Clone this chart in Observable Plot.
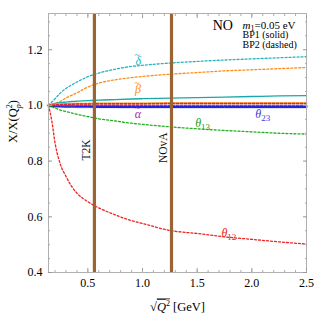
<!DOCTYPE html>
<html><head><meta charset="utf-8">
<script src="https://cdn.jsdelivr.net/npm/d3@7"></script>
<script src="https://cdn.jsdelivr.net/npm/@observablehq/plot@0.6"></script>
<style>
body{margin:0;background:#fff;}
svg text{font-family:"Liberation Serif","DejaVu Serif",serif;}
</style></head>
<body><div id="chart"></div>
<script>
const xs = [0.14,0.17,0.2,0.25,0.3,0.35,0.4,0.5,0.6,0.75,0.9,1.0,1.25,1.5,1.75,2.0,2.25,2.5];
const deltaBP2 = [1.0,1.012,1.024,1.045,1.061,1.073,1.084,1.103,1.116,1.13,1.14,1.144,1.152,1.158,1.163,1.167,1.171,1.175];
const betaBP2  = [1.0,1.003,1.007,1.015,1.027,1.036,1.045,1.066,1.08,1.092,1.1,1.104,1.112,1.118,1.124,1.128,1.132,1.136];
const tealBP1  = [1.0,1.004,1.007,1.01,1.012,1.014,1.015,1.017,1.019,1.021,1.023,1.024,1.026,1.028,1.03,1.032,1.034,1.035];
const th13BP2  = [1.0,0.995,0.99,0.983,0.978,0.973,0.968,0.96,0.952,0.944,0.936,0.932,0.923,0.916,0.91,0.905,0.9,0.897];
const th12BP2  = [1.0,0.945,0.865,0.787,0.745,0.71,0.685,0.654,0.632,0.607,0.586,0.576,0.551,0.54,0.528,0.519,0.51,0.502];
const orangeBP1= [1.0,1.002,1.003,1.004,1.005,1.005,1.006,1.006,1.007,1.007,1.007,1.007,1.008,1.008,1.008,1.008,1.008,1.008];
const redBP1   = [1.0,1.001,1.002,1.003,1.004,1.004,1.005,1.005,1.006,1.006,1.006,1.006,1.007,1.007,1.007,1.007,1.007,1.007];
const alphaBP2 = [1.0,1.0,1.0,1.0,1.0,1.0,1.0,1.0,1.0,1.0,1.0,1.0,1.0,1.0,1.0,1.0,1.0,1.0];
const th23BP1  = [1.0,0.999,0.999,0.998,0.998,0.998,0.997,0.997,0.997,0.997,0.996,0.996,0.996,0.996,0.996,0.996,0.996,0.996];
const navyBP1  = [0.998,0.996,0.995,0.995,0.994,0.994,0.994,0.994,0.993,0.993,0.993,0.993,0.993,0.993,0.993,0.993,0.993,0.993];

const expNames = ["T2K","NOvA"];
const expX = [0.56,1.265];
const expLabelY = [0.84,0.848];

const labelText = ["δ̃","β̃","α̃","θ23","θ13","θ12"];
const labelX = [0.957,0.957,0.957,2.1,1.55,1.79];
const labelY = [1.158,1.06,0.968,0.968,0.938,0.543];
const labelColor = ["#20b5c0","#ff8c1a","#9a32a8","#3b3bd8","#22a022","#ee2222"];

const legendLines = ["BP1 (solid)","BP2 (dashed)"];
const legendY = [1.255,1.218];

const xTicks = [0.5,1.0,1.5,2.0,2.5];
const yTicks = [0.4,0.6,0.8,1.0,1.2];

const series = (ys) => xs.map((x,i)=>({x, y: ys[i]}));
const dashed = {strokeWidth:1.3, strokeDasharray:"2,2", curve:"monotone-x"};
const solid = {curve:"monotone-x"};

const xMinor = d3.range(0.2,2.501,0.1).map(v=>+v.toFixed(2));
const yMinor = d3.range(0.45,1.33,0.05).map(v=>+v.toFixed(2));

const plot = Plot.plot({
  width:324, height:324,
  marginLeft:48, marginRight:18, marginTop:13, marginBottom:52,
  x:{domain:[0.14,2.5], label:null},
  y:{domain:[0.4,1.33], label:null},
  style:{fontFamily:"Liberation Serif, serif", fontSize:"12px", color:"#000", background:"#fff"},
  marks:[
    Plot.line(series(deltaBP2), {x:"x", y:"y", stroke:"#20b5c0", ...dashed}),
    Plot.line(series(betaBP2), {x:"x", y:"y", stroke:"#ff8c1a", ...dashed}),
    Plot.line(series(tealBP1), {x:"x", y:"y", stroke:"#18a8a8", strokeWidth:1.3, ...solid}),
    Plot.line(series(th23BP1), {x:"x", y:"y", stroke:"#6a7cff", strokeWidth:4, strokeOpacity:0.45, ...solid}),
    Plot.line(series(navyBP1), {x:"x", y:"y", stroke:"#10108a", strokeWidth:1, ...solid}),
    Plot.line(series(th23BP1), {x:"x", y:"y", stroke:"#2222dd", strokeWidth:1.5, ...solid}),
    Plot.line(series(orangeBP1), {x:"x", y:"y", stroke:"#ff8c1a", strokeWidth:2, ...solid}),
    Plot.line(series(redBP1), {x:"x", y:"y", stroke:"#ee2222", ...dashed}),
    Plot.line(series(alphaBP2), {x:"x", y:"y", stroke:"#9a32a8", ...dashed}),
    Plot.line(series(th13BP2), {x:"x", y:"y", stroke:"#22b022", ...dashed}),
    Plot.line(series(th12BP2), {x:"x", y:"y", stroke:"#ee2222", ...dashed}),
    Plot.ruleX(expX, {stroke:"#9a6434", strokeWidth:3.2}),
    Plot.text(expNames, {x:(d,i)=>expX[i], y:(d,i)=>expLabelY[i], text:d=>d, rotate:-90, dx:-8, fontSize:11.5, fill:"#111"}),
    Plot.text(labelText, {x:(d,i)=>labelX[i], y:(d,i)=>labelY[i], text:d=>d, fill:(d,i)=>labelColor[i], fontSize:12, fontStyle:"italic"}),
    Plot.text(["NO"], {x:1.735, y:1.287, text:d=>d, fontSize:14}),
    Plot.text(["m1=0.05 eV"], {x:1.915, y:1.287, text:d=>d, fontSize:11, textAnchor:"start"}),
    Plot.text(legendLines, {x:1.915, y:(d,i)=>legendY[i], text:d=>d, fontSize:10, textAnchor:"start"}),
    Plot.frame({stroke:"#b0b0b0"}),
    Plot.axisX(xTicks, {anchor:"bottom", tickSize:-4, text:null, stroke:"#999", label:null}),
    Plot.axisX(xTicks, {anchor:"top", tickSize:-4, text:null, stroke:"#999", label:null}),
    Plot.axisX(xMinor, {anchor:"bottom", tickSize:-2, text:null, stroke:"#aaa", label:null}),
    Plot.axisX(xMinor, {anchor:"top", tickSize:-2, text:null, stroke:"#aaa", label:null}),
    Plot.axisX(xTicks, {anchor:"bottom", tickSize:0, tickPadding:6, tickFormat:d3.format(".1f"), fontSize:12, label:null}),
    Plot.axisY(yTicks, {anchor:"left", tickSize:-4, text:null, stroke:"#999", label:null}),
    Plot.axisY(yTicks, {anchor:"right", tickSize:-4, text:null, stroke:"#999", label:null}),
    Plot.axisY(yMinor, {anchor:"left", tickSize:-2, text:null, stroke:"#aaa", label:null}),
    Plot.axisY(yMinor, {anchor:"right", tickSize:-2, text:null, stroke:"#aaa", label:null}),
    Plot.axisY(yTicks, {anchor:"left", tickSize:0, tickPadding:6, tickFormat:d3.format(".1f"), fontSize:12, label:null}),
    Plot.text(["XLABEL"], {frameAnchor:"bottom", dy:38, text:d=>d, fontSize:12.5}),
    Plot.text(["YLABEL"], {frameAnchor:"left", dx:-36, rotate:-90, text:d=>d, fontSize:12.5})
  ]
});
document.getElementById("chart").appendChild(plot);

const svg = d3.select(plot);
svg.selectAll("text").each(function(){
  const t = this.textContent;
  const el = d3.select(this);
  const tgt = el.select("tspan").empty() ? el : el.select("tspan");
  if (t === "θ23" || t === "θ13" || t === "θ12") {
    tgt.text("");
    tgt.append("tspan").text("θ");
    tgt.append("tspan").attr("font-size","9").attr("font-style","normal").attr("dy","3").text(t.slice(1));
  } else if (t === "δ̃" || t === "β̃" || t === "α̃") {
    tgt.text("");
    tgt.append("tspan").text(t[0]);
    tgt.append("tspan").attr("font-style","normal").attr("font-size","10").attr("dx","-6.5").attr("dy","-7").text("~");
  } else if (t === "m1=0.05 eV") {
    tgt.text("");
    tgt.append("tspan").attr("font-style","italic").text("m");
    tgt.append("tspan").attr("font-size","8").attr("dy","2").text("1");
    tgt.append("tspan").attr("dy","-2").text("=0.05 eV");
  } else if (t === "XLABEL") {
    tgt.text("");
    tgt.append("tspan").text("√");
    tgt.append("tspan").attr("font-style","italic").attr("text-decoration","overline").text("Q");
    tgt.append("tspan").attr("font-size","8").attr("dy","-5").attr("text-decoration","overline").text("2");
    tgt.append("tspan").attr("dy","5").text(" [GeV]");
  } else if (t === "YLABEL") {
    tgt.text("");
    tgt.append("tspan").text("X/X(Q");
    tgt.append("tspan").attr("font-size","8").attr("dy","-5").text("2");
    tgt.append("tspan").attr("font-size","8").attr("dx","-4").attr("dy","9").attr("font-style","italic").text("p");
    tgt.append("tspan").attr("dy","-4").text(")");
  }
});
</script></body></html>
